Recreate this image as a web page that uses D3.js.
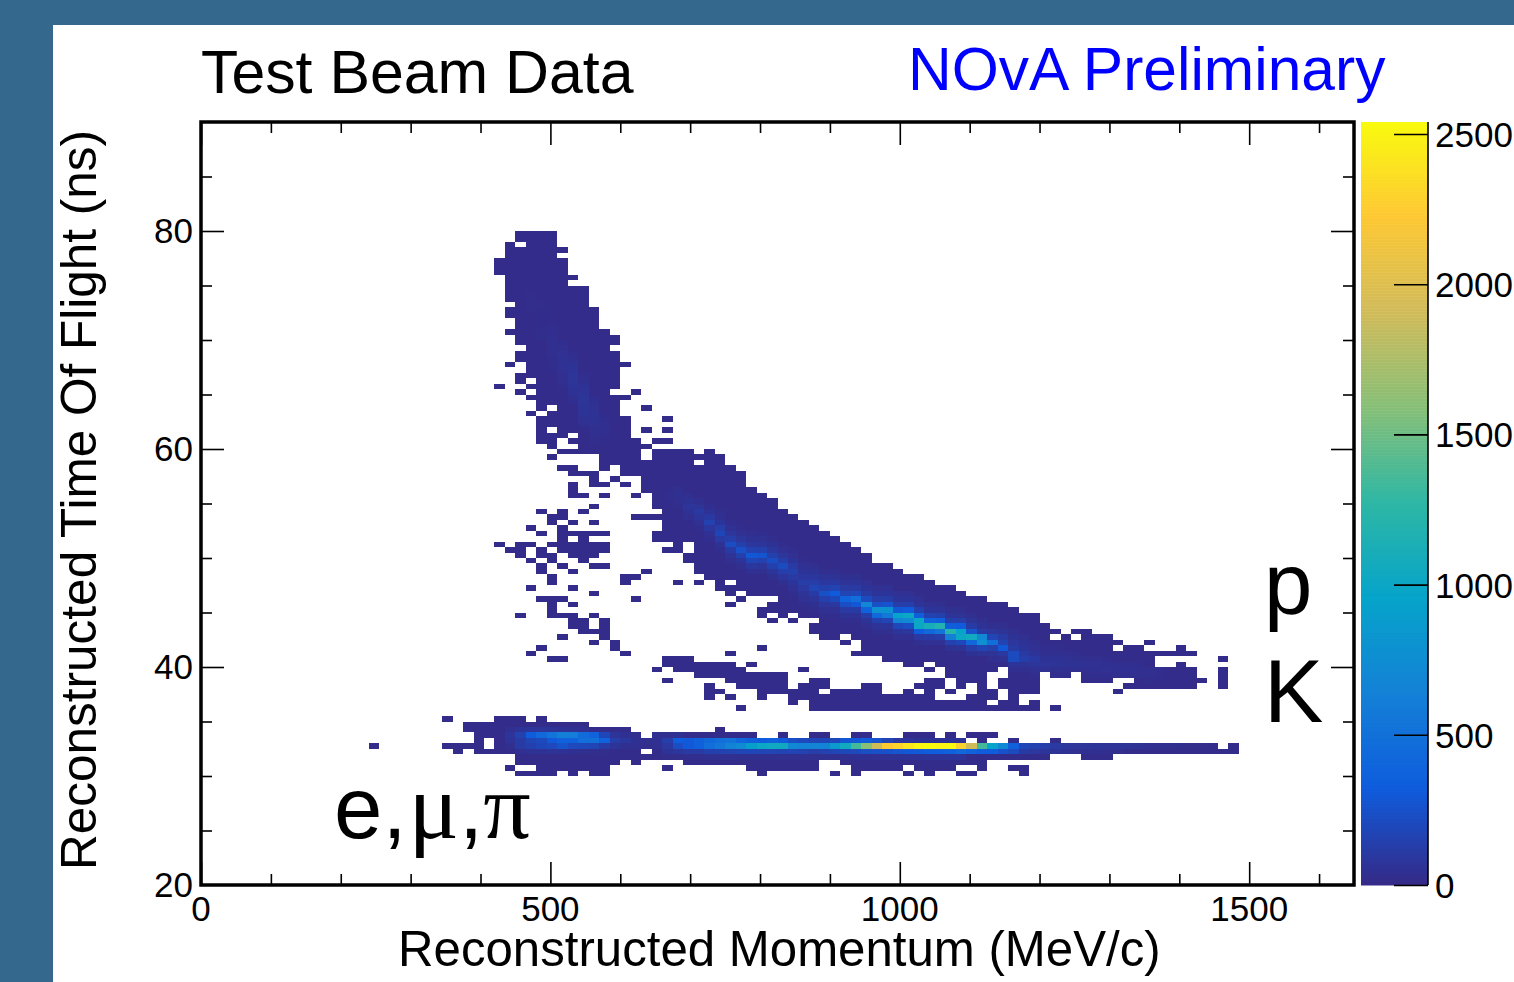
<!DOCTYPE html>
<html>
<head>
<meta charset="utf-8">
<script src="https://cdnjs.cloudflare.com/ajax/libs/d3/7.8.5/d3.min.js"></script>
<style>
  body { margin: 0; background: #34688d; overflow: hidden; }
  text { font-family: "Liberation Sans", Arial, sans-serif; fill: #000; }
</style>
</head>
<body>
<div id="graph"></div>
<script>
// histogram binning
const momentumBin = 15, tofBin = 0.5, tofStart = 20;
const baseCount = 12;

// filled cells: [row, "first-last first-last ..."] in bin numbers
const occupiedRows = [
  [119,"30-33"],[118,"30-33"],[117,"29 31-33"],[116,"29-34"],[115,"29-33"],[114,"28-34"],[113,"28-34"],[112,"28-34"],
  [111,"29-35"],[110,"29-34"],[109,"29-36"],[108,"29-36"],[107,"29-36"],[106,"30-36"],[105,"29-37"],[104,"29-37"],
  [103,"30-37"],[102,"30-37"],[101,"29-38"],[100,"30-39"],[99,"30-39"],[98,"31-38"],[97,"30-39"],[96,"30-39"],
  [95,"29 31-40"],[94,"31-39"],[93,"30-39"],[92,"30 32-39"],[91,"28 31-39"],[90,"30 32-38 41"],[89,"31-40"],[88,"32-39"],
  [87,"32 34-39 42"],[86,"31 33-39"],[85,"32-40 44"],[84,"32-40"],[83,"32 34-40 42 44"],[82,"32-34 36-40"],
  [81,"32-33 35-41 43-44"],[80,"33 36-42"],[79,"34-41 43-46 48"],[78,"33 38-41 43-49"],[77,"38-46 48-49"],
  [76,"34-35 38 40-50"],[75,"35-37 40-51"],[74,"37 39 42-51"],[73,"35 37-38 40 42-51"],[72,"35 42-52"],
  [71,"35-36 38 41 43-53"],[70,"43-54"],[69,"37 43-54"],[68,"32 34 36 44-55"],[67,"33-34 41-56"],[66,"33 35 37 44-57"],
  [65,"31 34 44-58"],[64,"32 34-38 43-59"],[63,"34 36 43-60"],[62,"28 30-31 33-38 45 47-61"],[61,"29-30 32 34-38 44-45 47-62"],
  [60,"30 32-33 35-37 46-63"],[59,"31 33 36 46-63"],[58,"32 34 37-38 47-65"],[57,"32 35 42 47-66"],[56,"33 40-41 48-68"],
  [55,"33 40 45 47 49 51-69"],[54,"31 35 49-71"],[53,"37 50 52-72"],[52,"32-34 41 51 55-74"],[51,"33 35 50 54-76"],
  [50,"33 53-77"],[49,"30 33-35 37 53 55 57-79"],[48,"35-36 38 54 56 59-79"],[47,"35-36 38 58-80"],[46,"36-38 58-81 83-84"],
  [45,"34 38 59-60 62-80 82 84-86"],[44,"37 39 61 63-87 90"],[43,"32 39 53 63-86 88-89 93"],[42,"31 40 50 62-94"],
  [41,"33-34 44-46 65-90 97"],[40,"44-50 52 67-68 70-90 93"],[39,"43 45-51 57 69 71-75 77-94 97"],
  [38,"47-55 71-74 77-79 81-82 84-94 97"],[37,"44 50-55 58-59 69-70 72-74 76-79 84-86 89-95 97"],
  [36,"48 51-55 57-59 63-64 68-70 72 74 76-79 88-94 97"],[35,"48-49 53-58 60-64 67 69 71 74-75 77-79 87"],
  [34,"48 50 53 56-69 73-75 77"],[33,"56 58-74 76-77 79"],[32,"51 58-79 81"],
  [30,"23 28-30 32"],[29,"25-36"],[28,"25-40 49"],[27,"26-41 43-52 55 58-59 62-63 67-69 71 73-75"],
  [26,"26 28-72 74 77 81"],[25,"16 23-26 28-96 98"],[24,"24 26-41 43-98"],[23,"30-80 84-86"],
  [22,"30-39 41 46-58 61-74"],[21,"29 32-38 44 52-58 62-66 68-71 74 77-78"],[20,"30-33 35 37-38 53 60 62 67 69 72-73 78"]
];

// proton ridge, column by column: [bin, top row, counts going down]
const protonColumns = [
  [31,109,[15,18,18,18,18]],[32,106,[18,22,22,22,22,25,25]],[33,102,[25,28,32,35,35,32,28,25,22]],
  [34,99,[28,35,42,46,46,42,35,32,25]],[35,97,[28,38,50,60,68,68,60,50,38,28]],[36,93,[28,38,50,60,68,68,64,56,46,35]],
  [37,89,[28,38,46,50,50,46,38,32,25]],[38,86,[22,28,32,32,28,22]],
  [44,72,[22,25,22]],[45,72,[30,40,35,25]],[46,71,[35,50,70,50,30,22]],[47,70,[30,55,95,70,42,28]],
  [48,69,[28,50,95,150,85,45,28]],[49,68,[25,40,65,120,180,100,50,28]],[50,66,[28,45,75,130,215,110,55,30]],
  [51,65,[28,45,75,140,235,140,65,35]],[52,64,[30,50,80,150,290,170,80,40]],[53,64,[28,42,70,140,265,150,70,38]],
  [54,63,[28,50,80,140,225,140,70,38]],[55,62,[28,45,75,130,205,130,70,38]],[56,61,[28,42,65,100,140,100,65,42,28]],
  [57,59,[28,42,60,85,120,90,60,42,28]],[58,58,[30,50,80,120,170,110,65,38,25]],[59,57,[35,55,85,140,240,140,75,42,25]],
  [60,57,[35,55,95,160,310,190,90,45,28]],[61,56,[38,60,100,170,390,230,100,50,28]],[62,56,[38,60,100,190,470,290,110,50,28]],
  [63,55,[42,65,105,210,690,370,130,55,30]],[64,54,[42,65,115,240,770,420,140,60,30]],[65,54,[42,65,115,260,790,570,170,65,35]],
  [66,53,[42,65,120,290,940,670,190,70,35]],[67,53,[42,65,130,310,1000,720,230,80,35]],[68,52,[42,65,140,340,1000,1000,320,90,40]],
  [69,51,[42,65,150,360,1100,420,110,42]],[70,51,[38,60,140,340,1180,520,130,45]],[71,50,[38,60,130,340,1200,620,150,50]],
  [72,50,[35,55,120,310,950,1000,190,55]],[73,49,[35,55,110,260,1050,420,120,50]],[74,48,[35,50,100,700,750,170,55]],
  [75,47,[35,75,170,480,140,55,35]],[76,47,[30,55,110,160,300,90,42]],[77,46,[30,50,75,110,210,210,65,35]],
  [78,45,[35,50,65,100,130,55,35]],[79,44,[30,42,60,95,70,42,28]],[80,43,[28,35,50,70,42,28]],[81,43,[25,35,50,55,38,25]],
  [82,42,[30,42,50,35,25]],[83,42,[28,38,50,35,25]],[84,41,[35,45,35,25]],[85,41,[30,45,40,28]],[86,41,[28,40,45,28]],
  [87,40,[35,40,30]],[88,40,[30,40,30]],[89,40,[28,35,30]],[90,39,[30,30,25]],[91,39,[28,28,22]]
];

// e, mu, pi band, row by row: [row, first bin, counts going right]
const lightRows = [
  [28,29,[30,60,70,70,60,50,40,30]],
  [27,29,[70,150,320,420,520,620,600,450,380,180,70,40,30,12,30,30,40]],
  [26,29,[60,110,170,200,300,370,370,480,500,370,120,80,40,30,40,130,320,300,350,420,480,520,400,350,330,360,330,230,200,170,180,190,280,300,320,260,170,90,70,50,50,50,50,50]],
  [25,29,[30,110,140,180,200,260,200,190,170,110,60,40,30,25,30,90,220,300,350,480,550,650,720,900,1000,1030,1040,700,650,680,650,850,1050,1350,1600,1900,2230,2300,2400,2500,2540,2500,2520,2280,1900,1350,950,700,350,180,150,130,100,80,75,70,65,60,60,55,50,40,35,30,25,20,18,15]],
  [24,30,[30,50,50,60,50,40,30,25,20,15,12,12,12,12,60,80,100,110,140,150,160,170,180,170,170,160,170,150,120,150,170,190,200,230,240,250,270,290,300,330,340,350,420,380,320,320,250,210,110,90,70,60,50,45,40,40,35,30]],
  [23,44,[20,20,25,25,30,30,35,35,35,35,35,35,35,30,30,30,35,35,40,40,45,45,50,50,50,55,55,60,60]]
];

const colorStops = ["#352a87","#0f5cdd","#1481d6","#06a4ca","#2eb7a4","#87bf77","#d1bb59","#fec832","#f9fb0e"];
const xMajor = [0,500,1000,1500];
const xMinor = [100,200,300,400,600,700,800,900,1100,1200,1300,1400,1600];
const yMajor = [40,60,80];
const yLabels = [20,40,60,80];
const yMinor = [25,30,35,45,50,55,65,70,75,85];
const barTicks = [0,500,1000,1500,2000,2500];

const margin = {top: 122, right: 160, bottom: 97, left: 201},
width = 1514 - margin.left - margin.right,
height = 982 - margin.top - margin.bottom;

const svg = d3.select("#graph")
  .append("svg")
    .attr("width", 1514)
    .attr("height", 982)
    .style("display", "block");

svg.append("rect")
  .attr("x", 53).attr("y", 25)
  .attr("width", 1461).attr("height", 957)
  .attr("fill", "#fff");

const g = svg.append("g")
  .attr("transform", `translate(${margin.left},${margin.top})`);

const x = d3.scaleLinear().domain([0, 1650]).range([0, width]);
const y = d3.scaleLinear().domain([20, 90]).range([height, 0]);

const maxCount = 2540;
const color = d3.scaleLinear()
  .domain(colorStops.map((c, i) => i * maxCount / 8))
  .range(colorStops)
  .clamp(true);

// turn the run lists into cells, then lay the read counts over them
const cells = new Map();
occupiedRows.forEach(([row, runs]) => {
  runs.split(" ").forEach(r => {
    const [a, b] = r.split("-").map(Number);
    d3.range(a, (b === undefined ? a : b) + 1).forEach(bin => {
      cells.set(bin + "_" + row, {bin, row, count: baseCount});
    });
  });
});
protonColumns.forEach(([bin, top, counts]) => {
  counts.forEach((c, i) => {
    const cell = cells.get(bin + "_" + (top - i));
    if (cell) cell.count = c;
  });
});
lightRows.forEach(([row, first, counts]) => {
  counts.forEach((c, i) => {
    const cell = cells.get((first + i) + "_" + row);
    if (cell) cell.count = c;
  });
});

g.selectAll("rect.cell")
  .data(Array.from(cells.values()))
  .join("rect")
    .attr("class", "cell")
    .attr("x", d => x(d.bin * momentumBin))
    .attr("y", d => y(tofStart + (d.row + 1) * tofBin))
    .attr("width", x(momentumBin) - x(0))
    .attr("height", y(tofStart) - y(tofStart + tofBin))
    .attr("fill", d => color(d.count))
    .attr("shape-rendering", "crispEdges");

// ticks on all four sides
function ticks(axis, size) {
  return axis.tickSize(-size).tickFormat("");
}
const axes = [
  [d3.axisBottom(x).tickValues(xMajor), 23, `translate(0,${height})`],
  [d3.axisBottom(x).tickValues(xMinor), 11, `translate(0,${height})`],
  [d3.axisTop(x).tickValues(xMajor), 23, "translate(0,0)"],
  [d3.axisTop(x).tickValues(xMinor), 11, "translate(0,0)"],
  [d3.axisLeft(y).tickValues(yMajor), 23, "translate(0,0)"],
  [d3.axisLeft(y).tickValues(yMinor), 11, "translate(0,0)"],
  [d3.axisRight(y).tickValues(yMajor), 23, `translate(${width},0)`],
  [d3.axisRight(y).tickValues(yMinor), 11, `translate(${width},0)`]
];
axes.forEach(([axis, size, tr]) => {
  const a = g.append("g").attr("transform", tr).call(ticks(axis, size));
  a.select(".domain").remove();
  a.selectAll("line").attr("stroke", "#000").attr("stroke-width", 1.6);
});

g.append("rect")
  .attr("width", width).attr("height", height)
  .attr("fill", "none")
  .attr("stroke", "#000")
  .attr("stroke-width", 3.5);

// tick labels
g.selectAll("text.xlabel")
  .data(xMajor)
  .join("text")
    .attr("class", "xlabel")
    .attr("x", d => x(d))
    .attr("y", height + 36)
    .attr("text-anchor", "middle")
    .attr("font-size", 35)
    .text(d => d);

g.selectAll("text.ylabel")
  .data(yLabels)
  .join("text")
    .attr("class", "ylabel")
    .attr("x", -8)
    .attr("y", d => y(d) + 12)
    .attr("text-anchor", "end")
    .attr("font-size", 35)
    .text(d => d);

// color bar
const barX = 1361, barW = 67;
const barY = d3.scaleLinear().domain([0, maxCount]).range([margin.top + height, margin.top]);
svg.append("g")
  .selectAll("rect")
  .data(d3.range(0, maxCount, 10))
  .join("rect")
    .attr("x", barX)
    .attr("y", d => barY(d + 10))
    .attr("width", barW)
    .attr("height", d => barY(d) - barY(d + 10) + 0.5)
    .attr("fill", d => color(d));

const barAxis = svg.append("g")
  .attr("transform", `translate(${barX + barW},0)`)
  .call(d3.axisLeft(barY).tickValues(barTicks).tickSize(34).tickFormat(""));
barAxis.select(".domain").remove();
barAxis.selectAll("line").attr("stroke", "#000").attr("stroke-width", 1.6);

svg.append("line")
  .attr("x1", barX + barW).attr("x2", barX + barW)
  .attr("y1", margin.top).attr("y2", margin.top + height)
  .attr("stroke", "#000").attr("stroke-width", 1.6);

svg.selectAll("text.barlabel")
  .data(barTicks)
  .join("text")
    .attr("class", "barlabel")
    .attr("x", 1435)
    .attr("y", d => barY(d) + 13)
    .attr("font-size", 35)
    .text(d => d);

// titles
svg.append("text")
  .attr("x", 201).attr("y", 93)
  .attr("font-size", 60.8)
  .text("Test Beam Data");

svg.append("text")
  .attr("x", 908).attr("y", 90)
  .attr("font-size", 60.5)
  .style("fill", "#0000ff")
  .text("NOvA Preliminary");

svg.append("text")
  .attr("x", 398).attr("y", 966)
  .attr("font-size", 49.2)
  .text("Reconstructed Momentum (MeV/c)");

svg.append("text")
  .attr("transform", "translate(96,870)rotate(-90)")
  .attr("font-size", 49.5)
  .text("Reconstructed Time Of Flight (ns)");

// particle labels
svg.append("text")
  .attr("x", 1264).attr("y", 614)
  .attr("font-size", 87)
  .text("p");

svg.append("text")
  .attr("x", 1264).attr("y", 722)
  .attr("font-size", 89)
  .text("K");

const lepton = svg.append("text")
  .attr("x", 334).attr("y", 838)
  .attr("font-size", 87);
lepton.append("tspan").text("e,");
lepton.append("tspan").attr("dx", 2).attr("font-size", 94).style("font-family", "'Liberation Serif'").text("μ");
lepton.append("tspan").attr("dx", 0).text(",");
lepton.append("tspan").attr("dx", 0).attr("font-size", 94).style("font-family", "'Liberation Serif'").text("π");
</script>
</body>
</html>
